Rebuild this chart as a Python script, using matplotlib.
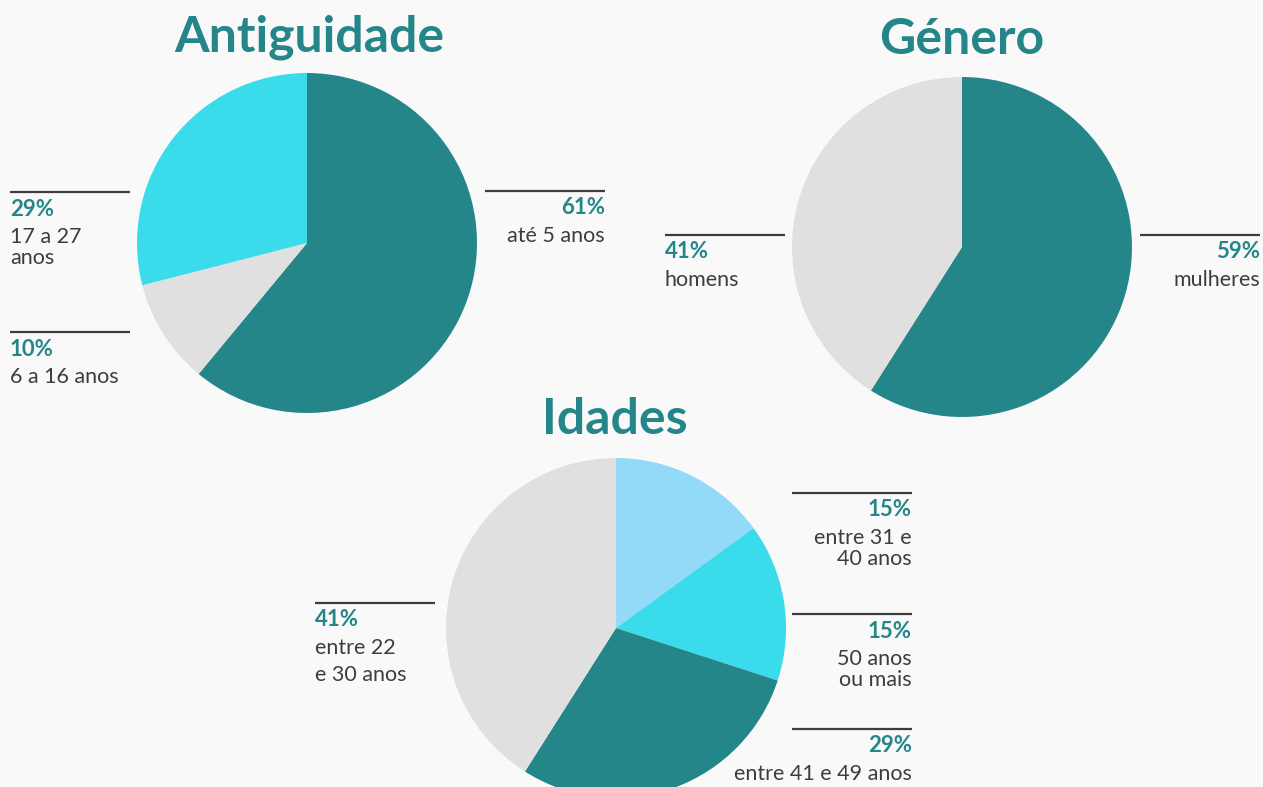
import matplotlib.pyplot as plt

# dados
antig_labels = ["até 5 anos", "6 a 16 anos", "17 a 27\nanos"]
antig_pct = [61, 10, 29]
genero_labels = ["mulheres", "homens"]
genero_pct = [59, 41]
idades_labels = ["entre 31 e\n40 anos", "50 anos\nou mais", "entre 41 e 49 anos", "entre 22\ne 30 anos"]
idades_pct = [15, 15, 29, 41]

TEAL = '#25868a'
CYAN = '#3adbea'
GRAY = '#e0e0e0'
LBLUE = '#93d9f8'
TXT = '#3d3d40'
BG = '#faf9fa'

W, H = 1263, 787

fig = plt.figure(figsize=(W / 100, H / 100), dpi=100, facecolor=BG)
ax = fig.add_axes([0, 0, 1, 1])
ax.set_facecolor(BG)


def py(y):
    # pixel (top origin) -> data y
    return H - y


def pie(values, colors, cx, cy, r):
    ax.pie(values, colors=colors, startangle=90, counterclock=False,
           center=(cx, py(cy)), radius=r, wedgeprops=dict(linewidth=0))


def label(x0, x1, yline, pct, text, side, gap=21):
    ax.plot([x0, x1], [py(yline), py(yline)], color=TXT, lw=1.6, solid_capstyle='butt')
    if side == 'left':
        xt, ha = x0, 'left'
    else:
        xt, ha = x1, 'right'
    ax.text(xt, py(yline + 17), f"{pct}%", color=TEAL, fontsize=16, fontweight='bold',
            ha=ha, va='center', family='Lato')
    for i, line in enumerate(text.split('\n')):
        ax.text(xt, py(yline + 45 + i * gap), line, color=TXT, fontsize=15.5, ha=ha,
                va='center', family='Lato')


def title(x, y, s):
    ax.text(x, py(y), s, color=TEAL, fontsize=36, fontweight='bold', ha='center',
            va='center', family='Lato')


# Antiguidade
pie(antig_pct, [TEAL, GRAY, CYAN], 307, 243, 170)
title(309, 37, "Antiguidade")
label(485, 605, 191, antig_pct[0], antig_labels[0], 'right')
label(10, 130, 332, antig_pct[1], antig_labels[1], 'left')
label(10, 130, 192, antig_pct[2], antig_labels[2], 'left')

# Género
pie(genero_pct, [TEAL, GRAY], 962, 247, 170)
title(962, 40, "Género")
label(1140, 1260, 235, genero_pct[0], genero_labels[0], 'right')
label(665, 785, 235, genero_pct[1], genero_labels[1], 'left')

# Idades
pie(idades_pct, [LBLUE, CYAN, TEAL, GRAY], 616, 628, 170)
title(615, 420, "Idades")
label(792, 912, 493, idades_pct[0], idades_labels[0], 'right')
label(792, 912, 614, idades_pct[1], idades_labels[1], 'right')
label(792, 912, 729, idades_pct[2], idades_labels[2], 'right')
label(315, 435, 603, idades_pct[3], idades_labels[3], 'left', gap=27)

ax.set_xlim(0, W)
ax.set_ylim(0, H)
ax.set_aspect('equal')
ax.axis('off')

fig.savefig('out.png', dpi=100, facecolor=BG)
